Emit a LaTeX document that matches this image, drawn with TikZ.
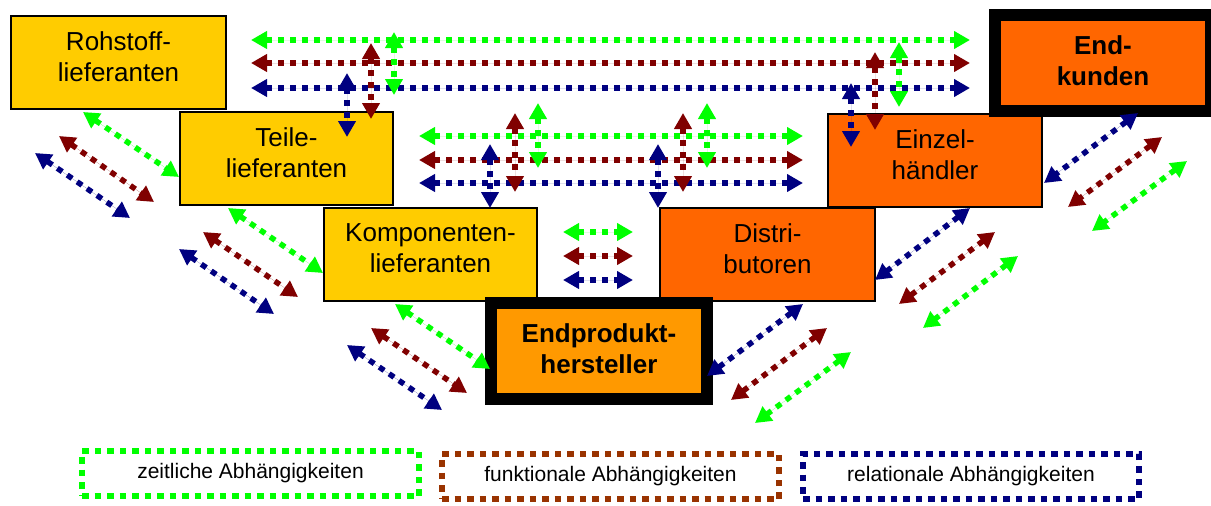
\documentclass[tikz,border=0pt]{standalone}
\usepackage{fontspec}
\setmainfont{Liberation Sans}
\usetikzlibrary{arrows.meta}

\definecolor{zgreen}{HTML}{00FF00}
\definecolor{fbrown}{HTML}{800000}
\definecolor{rblue}{HTML}{000080}
\definecolor{lbrown}{HTML}{993300}
\definecolor{boxyellow}{HTML}{FFCC00}
\definecolor{boxamber}{HTML}{FF9900}
\definecolor{boxorange}{HTML}{FF6600}

% dotted double-headed dependency arrow between two named coordinates
\newcommand\deplink[4]{%
  \coordinate (#2-a) at (#3);
  \coordinate (#2-b) at (#4);
  \draw[#1] (#2-a) -- (#2-b);}

\tikzset{
  stage/.style={draw=black, line width=2pt, align=center,
    font=\fontsize{26}{31}\selectfont, inner sep=0pt, text depth=12pt},
  keystage/.style={draw=black, line width=12pt, align=center,
    font=\fontsize{26}{31}\selectfont\bfseries, inner sep=0pt, text depth=5pt},
  dep/.style={line width=5.5pt, dash pattern=on 6pt off 6pt,
    {Triangle[length=16pt,width=17pt]}-{Triangle[length=16pt,width=17pt]}},
  zdep/.style={dep, draw=zgreen, fill=zgreen},
  fdep/.style={dep, draw=fbrown, fill=fbrown},
  rdep/.style={dep, draw=rblue, fill=rblue},
  legendbox/.style={line width=6pt, dash pattern=on 6.5pt off 6pt,
    fill=white, font=\fontsize{21}{25}\selectfont, inner sep=0pt,
    minimum height=45pt}
}

\begin{document}
\begin{tikzpicture}[x=1pt, y=-1pt]
\useasboundingbox (0,0) rectangle (1211,506);

% supply chain stages
\node[stage, fill=boxyellow, minimum width=215pt, minimum height=93pt]
  (roh) at (118.5,62.5) {Rohstoff-\\lieferanten};
\node[stage, fill=boxyellow, minimum width=213pt, minimum height=93pt]
  (teile) at (286.5,158.5) {Teile-\\lieferanten};
\node[stage, fill=boxyellow, minimum width=213pt, minimum height=93pt]
  (komp) at (430.5,254.5) {Komponenten-\\lieferanten};
\node[stage, fill=boxorange, minimum width=215pt, minimum height=93pt]
  (distri) at (767.5,254.5) {Distri-\\butoren};
\node[stage, fill=boxorange, minimum width=214pt, minimum height=93pt]
  (einzel) at (935,160.5) {Einzel-\\händler};
\node[keystage, fill=boxamber, minimum width=216pt, minimum height=95.5pt]
  (endprod) at (599,350.75) {Endprodukt-\\hersteller};
\node[keystage, fill=boxorange, minimum width=216pt, minimum height=95.5pt]
  (endkunden) at (1103,62.75) {End-\\kunden};

% upper horizontal band
\deplink{zdep}{th1}{251,40}{970,40}
\deplink{fdep}{th2}{251,63}{970,63}
\deplink{rdep}{th3}{251,88}{970,88}
\deplink{rdep}{tl1}{347,73}{347,137}
\deplink{fdep}{tl2}{371,43}{371,119}
\deplink{zdep}{tl3}{394,32}{394,95}
\deplink{rdep}{tr1}{851,83}{851,147}
\deplink{fdep}{tr2}{875,52}{875,130}
\deplink{zdep}{tr3}{899,42}{899,107}

% middle horizontal band
\deplink{zdep}{mh1}{419,136}{803,136}
\deplink{fdep}{mh2}{419,160}{803,160}
\deplink{rdep}{mh3}{419,183}{803,183}
\deplink{rdep}{ma1}{490,144}{490,208}
\deplink{fdep}{ma2}{515,113}{515,192}
\deplink{zdep}{ma3}{538,103}{538,168}
\deplink{rdep}{mb1}{658,144}{658,208}
\deplink{fdep}{mb2}{683,113}{683,192}
\deplink{zdep}{mb3}{707,103}{707,168}

% short band between the inner stages
\deplink{zdep}{s1}{563,232}{633,232}
\deplink{fdep}{s2}{563,256}{633,256}
\deplink{rdep}{s3}{563,280}{633,280}

% left diagonals
\deplink{zdep}{la1}{83,112}{179,177}
\deplink{fdep}{la2}{59,136}{154,202}
\deplink{rdep}{la3}{35,153}{130,218}
\deplink{zdep}{lb1}{228,208}{323,273}
\deplink{fdep}{lb2}{203,232}{298,297}
\deplink{rdep}{lb3}{179,249}{274,314}
\deplink{zdep}{lc1}{395,304}{490,369}
\deplink{fdep}{lc2}{371,328}{467,393}
\deplink{rdep}{lc3}{347,345}{442,410}

% right diagonals
\deplink{rdep}{ra1}{1138,113}{1044,183}
\deplink{fdep}{ra2}{1162,137}{1068,207}
\deplink{zdep}{ra3}{1187,161}{1092,231}
\deplink{rdep}{rb1}{970,208}{875,280}
\deplink{fdep}{rb2}{995,232}{899,304}
\deplink{zdep}{rb3}{1018,256}{923,328}
\deplink{rdep}{rc1}{803,304}{707,376}
\deplink{fdep}{rc2}{827,328}{731,400}
\deplink{zdep}{rc3}{851,352}{755,423}

% legend
\node[legendbox, draw=zgreen, minimum width=337pt] (lz) at (250.5,473.5)
  {zeitliche Abhängigkeiten};
\node[legendbox, draw=lbrown, minimum width=337pt] (lf) at (610.5,476.5)
  {funktionale Abhängigkeiten};
\node[legendbox, draw=rblue, minimum width=336pt] (lr) at (971,476.5)
  {relationale Abhängigkeiten};
\end{tikzpicture}
\end{document}
